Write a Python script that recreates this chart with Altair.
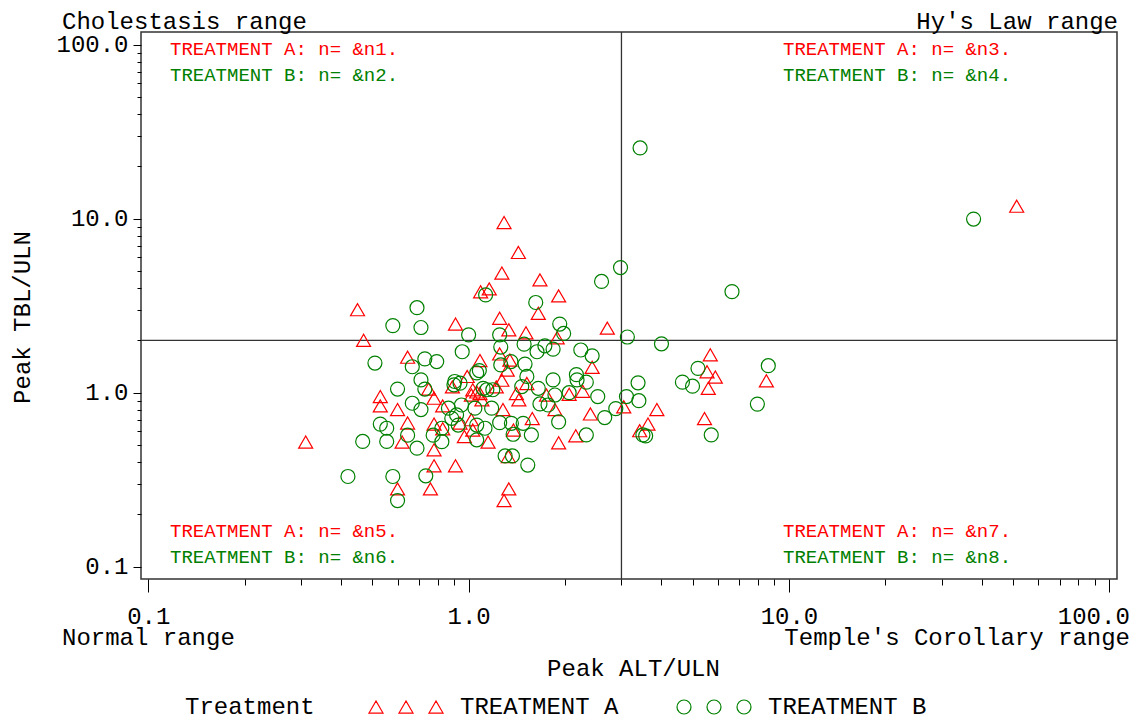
import altair as alt
import pandas as pd

# ---------------- data ----------------
a_alt = [0.31, 0.45, 0.47, 0.53, 0.53, 0.60, 0.62, 0.60, 0.645, 0.645,
         0.75, 0.78, 0.78, 0.78, 0.78, 0.76, 0.83, 0.83, 0.89, 0.91,
         0.91, 0.94, 0.97, 0.99, 1.02, 1.03, 1.06, 1.085, 1.10, 1.02,
         1.03, 1.085, 1.09, 1.16, 1.15, 1.22, 1.27, 1.25, 1.25, 1.28,
         1.29, 1.27, 1.29, 1.33, 1.335, 1.32, 1.345, 1.335, 1.38, 1.41,
         1.435, 1.43, 1.52, 1.51, 1.58, 1.65, 1.67, 1.75, 1.86, 1.91,
         1.89, 1.91, 2.06, 2.16, 2.27, 2.40, 2.43, 2.71, 3.05, 3.42,
         3.63, 3.87, 5.45, 5.55, 5.6, 5.68, 5.89, 8.5, 51.4]
a_tbl = [0.52, 3.0, 2.0, 0.95, 0.84, 0.80, 0.52, 0.28, 1.6, 0.67,
         1.05, 0.93, 0.66, 0.47, 0.38, 0.28, 0.84, 0.62, 1.08, 2.48,
         0.38, 0.67, 0.56, 1.24, 0.97, 1.04, 1.01, 0.99, 0.91, 0.70,
         0.61, 1.53, 3.8, 3.95, 0.52, 1.08, 1.18, 2.68, 1.67, 0.80,
         9.5, 4.87, 0.24, 0.43, 0.28, 1.35, 1.54, 2.3, 0.61, 0.99,
         0.91, 6.4, 1.13, 2.21, 0.71, 2.86, 4.45, 0.97, 0.80, 0.515,
         2.07, 3.6, 0.98, 0.565, 1.02, 0.755, 1.40, 2.35, 0.83, 0.605,
         0.66, 0.80, 0.71, 1.32, 1.06, 1.65, 1.23, 1.17, 11.8]

b_alt = [0.42, 0.467, 0.51, 0.53, 0.555, 0.555, 0.58, 0.60, 0.58, 0.60,
         0.667, 0.69, 0.71, 0.71, 0.73, 0.795, 0.73, 0.667, 0.71, 0.645,
         0.69, 0.775, 0.735, 0.825, 0.825, 0.865, 0.886, 0.90, 0.905, 0.917,
         0.94, 0.95, 0.955, 0.928, 1.0, 1.046, 1.06, 1.06, 1.08, 1.06,
         1.11, 1.14, 1.19, 1.125, 1.13, 1.18, 1.25, 1.26, 1.26, 1.25,
         1.30, 1.37, 1.355, 1.36, 1.377, 1.48, 1.49, 1.50, 1.52, 1.465,
         1.53, 1.57, 1.62, 1.635, 1.65, 1.67, 1.73, 1.77, 1.835, 1.86,
         1.835, 1.91, 1.925, 1.98, 2.06, 2.17, 2.18, 2.24, 2.33, 2.33,
         2.43, 2.53, 2.6, 2.66, 2.88, 2.98, 3.11, 3.13, 3.38, 3.40,
         3.50, 3.57, 3.43, 4.0, 4.65, 5.0, 5.2, 5.72, 6.64, 7.97,
         8.62, 37.7]
b_tbl = [0.33, 0.525, 1.48, 0.66, 0.625, 0.525, 0.33, 0.24, 2.43, 1.05,
         1.41, 3.08, 2.37, 1.185, 1.565, 1.51, 1.05, 0.87, 0.80, 0.57,
         0.48, 0.57, 0.333, 0.523, 0.625, 0.815, 0.713, 1.11, 1.16, 0.745,
         1.134, 0.85, 1.72, 0.652, 2.15, 0.815, 0.652, 0.536, 1.34, 1.30,
         1.06, 1.04, 1.04, 0.625, 3.65, 0.815, 2.15, 1.83, 1.445, 0.673,
         0.433, 0.433, 1.51, 0.667, 0.577, 0.667, 1.9, 1.46, 1.24, 1.085,
         0.384, 0.572, 3.3, 1.72, 1.06, 0.862, 1.86, 0.85, 1.78, 0.97,
         1.185, 0.68, 2.48, 2.19, 1.0, 1.27, 1.185, 1.76, 1.15, 0.572,
         1.63, 0.95, 4.36, 0.72, 0.81, 5.24, 0.95, 2.09, 1.14, 0.90,
         0.572, 0.565, 25.5, 1.91, 1.15, 1.09, 1.38, 0.572, 3.81, 0.86,
         1.43, 9.95]

groups = ["TREATMENT A", "TREATMENT B"]
group_colors = ["#FF0000", "#008000"]
group_shapes = ["triangle-up", "circle"]

major_ticks = [0.1, 1, 10, 100]
minor_ticks = [0.2, 0.3, 0.4, 0.5, 0.6, 0.7, 0.8, 0.9,
               2, 3, 4, 5, 6, 7, 8, 9,
               20, 30, 40, 50, 60, 70, 80, 90]
ref_alt = [3.0]
ref_tbl = [2.0]
x_domain = [0.0949, 105.7]
y_domain = [0.085, 118.3]

quadrant_texts = [
    ("TREATMENT A: n= &n1.", 0), ("TREATMENT B: n= &n2.", 1),
    ("TREATMENT A: n= &n3.", 0), ("TREATMENT B: n= &n4.", 1),
    ("TREATMENT A: n= &n5.", 0), ("TREATMENT B: n= &n6.", 1),
    ("TREATMENT A: n= &n7.", 0), ("TREATMENT B: n= &n8.", 1),
]

# ---------------- chart ----------------
df = pd.DataFrame({
    "ALT": a_alt + b_alt,
    "TBL": a_tbl + b_tbl,
    "Treatment": [groups[0]] * len(a_alt) + [groups[1]] * len(b_alt),
})

FONT = "Liberation Mono"
BIG = 24
SMALL = 19
W, H = 976, 547

xs = alt.Scale(type="log", domain=x_domain, nice=False)
ys = alt.Scale(type="log", domain=y_domain, nice=False)

x_major = alt.Axis(
    orient="bottom", values=major_ticks, tickSize=13, tickColor="black", tickWidth=1,
    labelExpr="format(datum.value, '.1f')", labelFont=FONT, labelFontSize=BIG,
    labelColor="black", labelBaseline="alphabetic", labelPadding=31,
    labelFlush=False, labelOverlap=False,
    labelOffset={"condition": {"test": "datum.value >= 100", "value": -16}, "value": 0},
    domain=False, grid=False,
    title="Peak ALT/ULN", titleFont=FONT, titleFontSize=BIG, titleFontWeight="normal",
    titleColor="black", titleX=492, titleY=96, titleAlign="center",
    titleBaseline="alphabetic", titleAngle=0,
)
y_major = alt.Axis(
    orient="left", values=major_ticks, tickSize=8, tickColor="black", tickWidth=1,
    labelExpr="format(datum.value, '.1f')", labelFont=FONT, labelFontSize=BIG,
    labelColor="black", labelBaseline="middle", labelPadding=5,
    labelFlush=False, labelOverlap=False, domain=False, grid=False,
    title="Peak TBL/ULN", titleFont=FONT, titleFontSize=BIG, titleFontWeight="normal",
    titleColor="black", titleX=-112, titleY=285, titleAlign="center",
    titleBaseline="alphabetic", titleAngle=270,
)
x_minor = alt.Axis(orient="bottom", values=minor_ticks, tickSize=6, tickColor="black",
                   tickWidth=1, labels=False, domain=False, grid=False, title=None)
y_minor = alt.Axis(orient="left", values=minor_ticks, tickSize=4, tickColor="black",
                   tickWidth=1, labels=False, domain=False, grid=False, title=None)

# legend symbols: three glyphs per entry, as in the SAS legend
offs = [-4.286, 0.0, 4.286]
TRI3 = "".join(f"M{c:.3f},-0.866L{c - 1:.3f},0.866L{c + 1:.3f},0.866Z" for c in offs)
CIR3 = "".join(f"M{c - 1:.3f},0A1,1,0,1,0,{c + 1:.3f},0A1,1,0,1,0,{c - 1:.3f},0Z" for c in offs)

legend = alt.Legend(
    title="Treatment", orient="none", legendX=44, legendY=663, direction="horizontal",
    titleOrient="left", titleFont=FONT, titleFontSize=BIG, titleFontWeight="normal",
    titleColor="black", titlePadding=79, labelFont=FONT, labelFontSize=BIG,
    labelColor="black", labelOffset=42, labelLimit=400, columnPadding=55,
    symbolSize=196, symbolStrokeWidth=1.2, padding=0,
)

vline = alt.Chart(pd.DataFrame({"ALT": ref_alt})).mark_rule(
    color="#333333", strokeWidth=1.3
).encode(x=alt.X("ALT:Q", scale=xs, axis=x_minor))

hline = alt.Chart(pd.DataFrame({"TBL": ref_tbl})).mark_rule(
    color="#333333", strokeWidth=1.3
).encode(y=alt.Y("TBL:Q", scale=ys, axis=y_minor))

points = alt.Chart(df).mark_point(
    filled=False, size=196, strokeWidth=1.2, opacity=1
).encode(
    x=alt.X("ALT:Q", scale=xs, axis=x_major),
    y=alt.Y("TBL:Q", scale=ys, axis=y_major),
    color=alt.Color("Treatment:N", scale=alt.Scale(domain=groups, range=group_colors),
                    legend=None),
    shape=alt.Shape("Treatment:N", scale=alt.Scale(domain=groups, range=group_shapes),
                    legend=None),
)

# legend-only layer: no rows survive the filter, the legend comes from the scales
legend_layer = alt.Chart(pd.DataFrame({"Group": groups})).transform_filter(
    "false"
).mark_point(filled=False, size=196, strokeWidth=1.2, opacity=1).encode(
    color=alt.Color("Group:N", scale=alt.Scale(domain=groups, range=group_colors),
                    legend=legend),
    shape=alt.Shape("Group:N", scale=alt.Scale(domain=groups, range=[TRI3, CIR3]),
                    legend=legend),
)

one = pd.DataFrame({"k": [0]})


def label(txt, x, y, align, size, color):
    return alt.Chart(one).mark_text(
        x=x, y=y, align=align, baseline="alphabetic", font=FONT, fontSize=size,
        color=color
    ).encode(text=alt.value(txt))


texts = [
    label("Cholestasis range", -79, -3.5, "left", BIG, "black"),
    label("Hy's Law range", 977, -3.5, "right", BIG, "black"),
    label("Normal range", -79, 613, "left", BIG, "black"),
    label("Temple's Corollary range", 989, 613, "right", BIG, "black"),
]
quad_pos = [(29, 23), (29, 49), (642, 23), (642, 49),
            (29, 504.5), (29, 531), (642, 504.5), (642, 531)]
for (txt, gi), (px, py) in zip(quadrant_texts, quad_pos):
    texts.append(label(txt, px, py, "left", SMALL, group_colors[gi]))

chart = alt.layer(vline, hline, points, legend_layer, *texts).resolve_axis(
    x="independent", y="independent"
).resolve_scale(
    color="independent", shape="independent"
).properties(
    width=W, height=H,
    autosize=alt.AutoSizeParams(type="none"),
    padding={"left": 133, "top": 24, "right": 13, "bottom": 143},
    background="white",
).configure_view(stroke="#333333", strokeWidth=1.5)

chart.save("out.html", embed_options={"renderer": "svg", "actions": False})
